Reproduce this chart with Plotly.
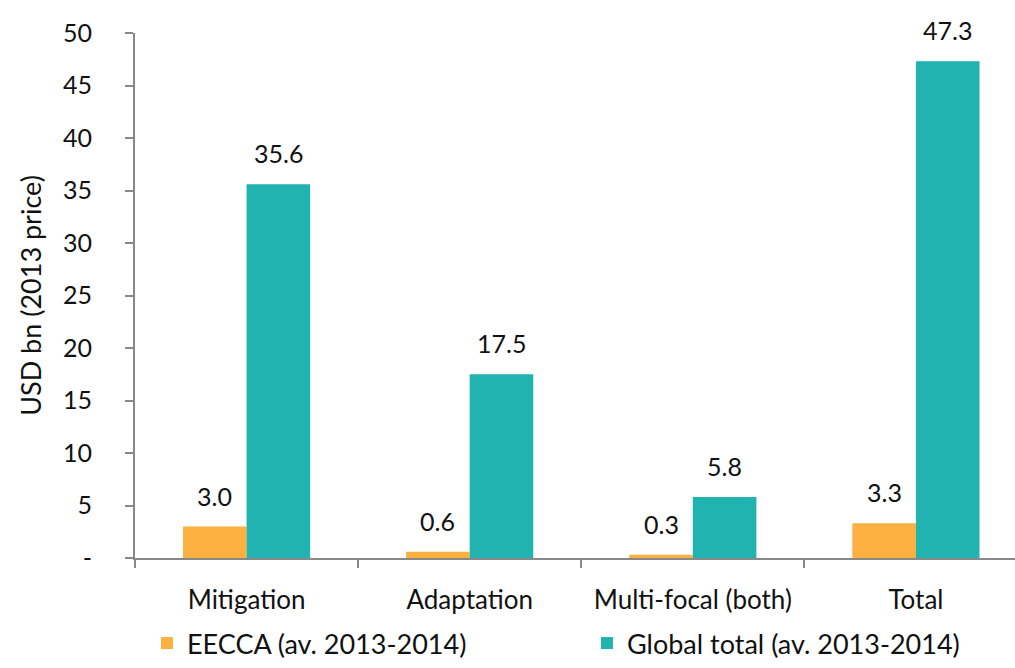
import plotly.graph_objects as go

categories = ["Mitigation", "Adaptation", "Multi-focal (both)", "Total"]
eecca = [3.0, 0.6, 0.3, 3.3]
global_total = [35.6, 17.5, 5.8, 47.3]
series_names = ["EECCA (av. 2013-2014)", "Global total (av. 2013-2014)"]
y_ticks = [0, 5, 10, 15, 20, 25, 30, 35, 40, 45, 50]
y_tick_text = ["-"] + [str(v) for v in y_ticks[1:]]

FONT = "Lato, 'Open Sans', sans-serif"
AXIS_GRAY = "#888888"
COLORS = ["#FBB040", "#21B3B0"]
LEGENDS = ["legend", "legend2"]

fig = go.Figure()
for name, values, color, lg in zip(series_names, [eecca, global_total], COLORS, LEGENDS):
    fig.add_trace(go.Bar(
        x=categories, y=values, name=name,
        marker=dict(color=color, line=dict(width=0)),
        offsetgroup=name, legend=lg,
    ))

# value labels above each bar, placed on the bar's own x offset
n_series = 2
bargap = 0.43
bar_w = (1 - bargap) / n_series
for s, values in enumerate([eecca, global_total]):
    offset = -((1 - bargap) / 2) + bar_w * (s + 0.5)
    for i, v in enumerate(values):
        fig.add_annotation(
            x=i + offset, y=v, xref="x", yref="y",
            text=f"{v:.1f}", showarrow=False,
            yanchor="middle", yshift=31,
            font=dict(size=25, color="#111111"),
        )

legend_style = dict(
    orientation="h", xanchor="left", y=-0.2095, yanchor="bottom",
    font=dict(size=27), bgcolor="rgba(0,0,0,0)",
    tracegroupgap=0, itemwidth=30,
)

fig.update_layout(
    width=1015, height=668,
    margin=dict(l=135, r=0, t=33, b=110, autoexpand=False),
    paper_bgcolor="white", plot_bgcolor="white",
    font=dict(family=FONT, size=25, color="#111111"),
    barmode="group", bargap=bargap, bargroupgap=0,
    showlegend=True,
    legend=dict(x=0.0136, **legend_style),
    legend2=dict(x=0.5136, **legend_style),
    xaxis=dict(
        type="category", range=[-0.5, 3.444], showgrid=False, zeroline=False,
        showline=True, linecolor=AXIS_GRAY, linewidth=2,
        ticks="outside", tickson="boundaries", ticklen=8, tickwidth=2,
        tickcolor=AXIS_GRAY, ticklabelstandoff=18,
        tickfont=dict(size=26),
    ),
    yaxis=dict(
        range=[0, 50], showgrid=False, zeroline=False,
        showline=True, linecolor=AXIS_GRAY, linewidth=2,
        ticks="outside", ticklen=8, tickwidth=2, tickcolor=AXIS_GRAY,
        tickvals=y_ticks, ticktext=y_tick_text, ticklabelstandoff=28,
        tickfont=dict(size=25),
        title=dict(text="USD bn (2013 price)", font=dict(size=27), standoff=14),
    ),
)

fig.write_html("out.html")
